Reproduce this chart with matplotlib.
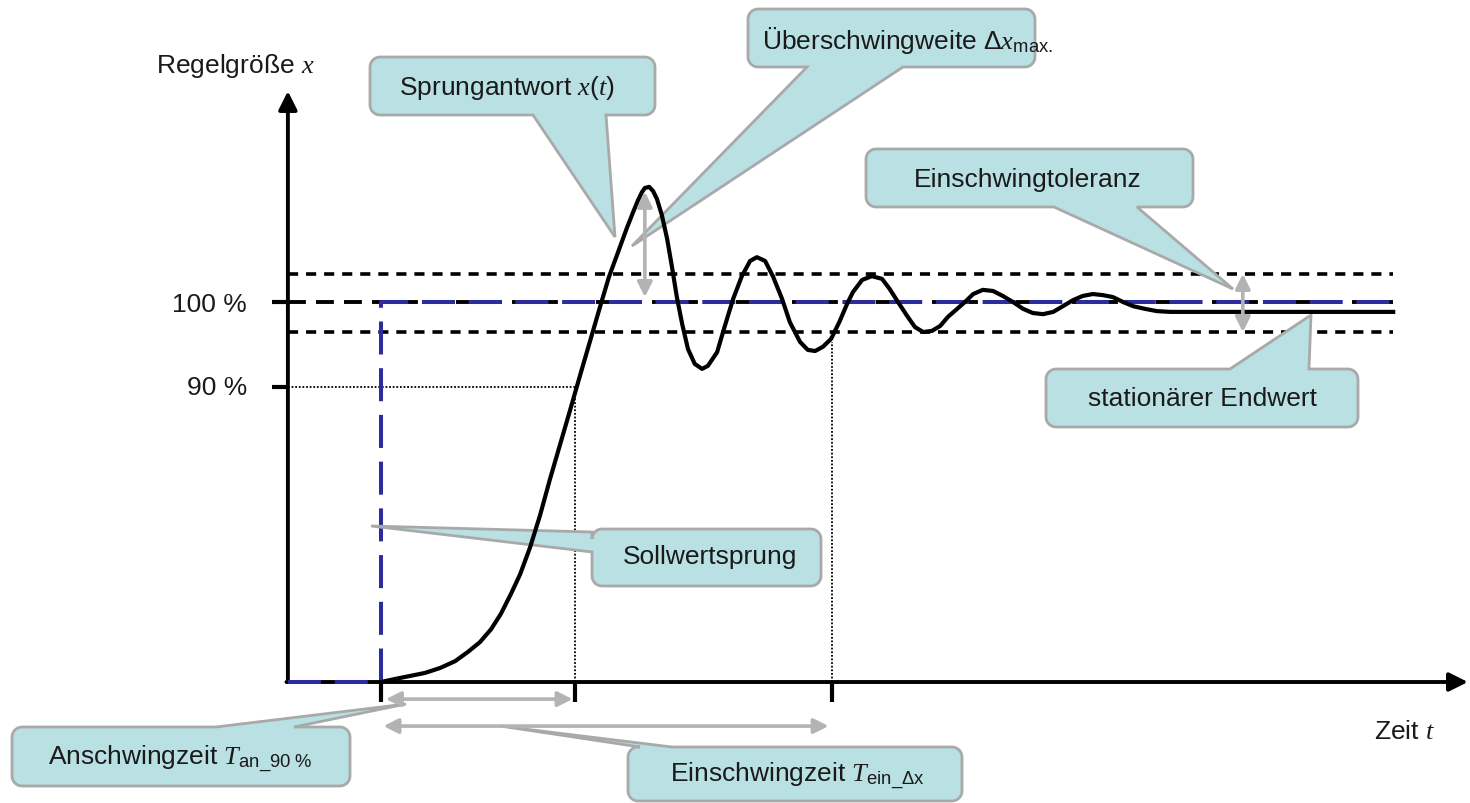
import numpy as np
import matplotlib.pyplot as plt
import matplotlib.transforms as mtransforms
from matplotlib.patches import Polygon

plt.rcParams['font.family'] = ['Liberation Sans', 'DejaVu Sans']
plt.rcParams['mathtext.fontset'] = 'custom'
plt.rcParams['mathtext.rm'] = 'Liberation Sans'
plt.rcParams['mathtext.it'] = 'Liberation Serif:italic'
plt.rcParams['mathtext.bf'] = 'Liberation Sans:bold'

# step response x(t) (t in time units, x in % of set point scale)
t_resp = [0.00, 0.29, 0.60, 0.91, 1.22, 1.53, 1.79, 2.04, 2.27, 2.47, 2.68, 2.87,
          3.07, 3.28, 3.48, 3.69, 3.90, 4.10, 4.31, 4.52, 4.70, 4.89, 5.07, 5.20,
          5.30, 5.38, 5.44, 5.53, 5.61, 5.69, 5.79, 5.90, 6.00, 6.10, 6.21, 6.33,
          6.47, 6.62,
          6.74, 6.93, 7.09, 7.26, 7.44, 7.61, 7.75, 7.92, 8.08, 8.27, 8.43, 8.64,
          8.80, 8.95, 9.11, 9.28, 9.46, 9.61,
          9.73, 9.92, 10.12, 10.33, 10.49, 10.66, 10.85, 11.01, 11.18, 11.36, 11.53,
          11.69, 11.88, 12.04, 12.21, 12.41, 12.62, 12.82, 13.03, 13.24, 13.44, 13.65,
          13.86, 14.06, 14.27, 14.47, 14.68, 14.89, 15.09, 15.30, 15.51, 15.75, 16.00,
          16.27, 20.87]
x_resp = [0.0, 0.8, 1.6, 2.4, 3.7, 5.5, 7.9, 10.5, 13.9, 17.9, 23.2, 28.4,
          35.3, 43.9, 53.2, 62.4, 71.6, 80.5, 89.7, 98.9, 106.6, 113.2, 119.5, 123.7,
          126.8, 128.9, 130.0, 130.3, 129.2, 127.1, 122.9, 116.6, 109.2, 101.3, 94.2, 87.6,
          83.7, 82.4,
          83.2, 86.8, 93.7, 100.8, 106.8, 110.8, 111.8, 110.8, 106.8, 100.8, 94.7, 89.5,
          87.4, 87.1, 88.2, 90.3, 95.0, 99.5,
          102.6, 105.8, 106.8, 106.1, 103.4, 100.0, 96.3, 93.4, 92.1, 92.4, 93.7,
          96.1, 98.2, 100.0, 102.1, 103.2, 102.9, 101.6, 100.0, 98.2, 97.1, 96.8,
          97.4, 98.9, 100.5, 101.6, 102.1, 101.8, 101.3, 100.0, 98.9, 98.2, 97.6,
          97.4, 97.4]

t_step = 0.0      # Sollwertsprung
t_an = 4.0        # Anschwingzeit
t_ein = 9.3       # Einschwingzeit
t_end = 20.87
x_set = 100.0     # 100 %
x_90 = 77.6       # 90 % mark (schematic position)
tol_hi = 107.4
tol_lo = 92.1
x_ein = 89.5
t_axis0 = -1.92
t_axis_end = 22.41
x_axis_top = 155.5

W, H = 1470, 804
fig = plt.figure(figsize=(14.7, 8.04), dpi=100)
ax = fig.add_axes([0, 0, 1, 1])
ax.set_xlim(-7.856, 22.454)
ax.set_ylim(-31.84, 179.74)
ax.axis('off')

# pixel transform (y down) for the callouts
pix = mtransforms.Affine2D().scale(1 / W, -1 / H).translate(0, 1) + fig.transFigure

# reference lines
ax.plot([t_axis0, t_end], [tol_hi, tol_hi], color='k', lw=2.6, dashes=(2.8, 2.2),
        dash_capstyle='butt', zorder=2)
ax.plot([t_axis0, t_end], [tol_lo, tol_lo], color='k', lw=2.6, dashes=(2.8, 2.2),
        dash_capstyle='butt', zorder=2)
ax.plot([t_axis0, t_end], [x_set, x_set], color='k', lw=2.8, dashes=(4.6, 2.6),
        dash_capstyle='butt', zorder=2)
ax.plot([t_axis0, t_step, t_step, t_end], [0, 0, x_set, x_set], color='#2c2c9c', lw=2.9,
        dashes=(8.2, 3.4), dash_capstyle='butt', zorder=3.5)

# dotted helper lines
ax.plot([t_axis0, t_an], [x_90, x_90], color='k', lw=1.3, dashes=(1, 1), zorder=2)
ax.plot([t_an, t_an], [0, x_90], color='k', lw=1.3, dashes=(1, 1), zorder=2)
ax.plot([t_ein, t_ein], [0, x_ein], color='k', lw=1.3, dashes=(1, 1), zorder=2)

# axes with arrows
ax.annotate('', xy=(t_axis0, x_axis_top), xytext=(t_axis0, 0),
            arrowprops=dict(arrowstyle='-|>', lw=2.8, color='k', mutation_scale=28,
                            shrinkA=0, shrinkB=0), zorder=3)
ax.annotate('', xy=(t_axis_end, 0), xytext=(t_axis0 - 0.03, 0),
            arrowprops=dict(arrowstyle='-|>', lw=2.8, color='k', mutation_scale=28,
                            shrinkA=0, shrinkB=0), zorder=3)
for lev in [x_set, x_90]:
    ax.plot([t_axis0 - 0.33, t_axis0], [lev, lev], color='k', lw=3, solid_capstyle='butt', zorder=3)
for tt in [t_step, t_an, t_ein]:
    ax.plot([tt, tt], [0, -5.3], color='k', lw=3, solid_capstyle='butt', zorder=3)

# step response
ax.plot(t_resp, x_resp, color='k', lw=3, solid_joinstyle='round', zorder=6)

# gray dimension arrows
gray = '#b3b3b3'
aprops = dict(arrowstyle='<|-|>', lw=2.6, color=gray, mutation_scale=22, shrinkA=0, shrinkB=0)
ax.annotate('', xy=(5.44, 129.0), xytext=(5.44, 101.3), arrowprops=aprops, zorder=7)
ax.annotate('', xy=(17.77, tol_hi), xytext=(17.77, tol_lo), arrowprops=aprops, zorder=7)
ax.annotate('', xy=(t_step + 0.1, -4.5), xytext=(t_an - 0.05, -4.5), arrowprops=aprops, zorder=7)
ax.annotate('', xy=(t_step + 0.05, -11.6), xytext=(t_ein - 0.07, -11.6), arrowprops=aprops, zorder=7)


def callout(x0, y0, x1, y1, side, a, b, tip, r=10):
    def arc(cx, cy, a0, a1):
        th = np.radians(np.linspace(a0, a1, 8))
        return list(zip(cx + r * np.cos(th), cy + r * np.sin(th)))
    pts = arc(x0 + r, y0 + r, 180, 270)
    if side == 'top':
        pts += [(a, y0), tip, (b, y0)]
    pts += arc(x1 - r, y0 + r, 270, 360)
    if side == 'right':
        pts += [(x1, a), tip, (x1, b)]
    pts += arc(x1 - r, y1 - r, 0, 90)
    if side == 'bottom':
        pts += [(b, y1), tip, (a, y1)]
    pts += arc(x0 + r, y1 - r, 90, 180)
    if side == 'left':
        pts += [(x0, b), tip, (x0, a)]
    ax.add_patch(Polygon(pts, closed=True, transform=pix, fc='#b9e0e3', ec='#a9a9a9',
                         lw=2, zorder=4))


callout(370, 58, 655, 116, 'bottom', 533, 606, (615, 238))
callout(748, 10, 1035, 68, 'bottom', 807, 903, (632, 247))
callout(866, 150, 1193, 208, 'bottom', 1054, 1137, (1233, 290))
callout(1046, 370, 1358, 428, 'top', 1230, 1309, (1311, 316))
callout(592, 530, 821, 587, 'left', 533, 553, (371, 527))
callout(12, 728, 350, 787, 'top', 216, 294, (406, 705))
callout(628, 748, 962, 802, 'top', 640, 672, (500, 727))

fs = 19
txt = dict(transform=pix, ha='center', va='center', fontsize=fs, color='#1a1a1a', zorder=5)
ax.text(507, 88, r'Sprungantwort $x(t)$', **txt)
ax.text(908, 40, r'Überschwingweite $\Delta x_{\mathrm{max.}}$', **txt)
ax.text(1028, 180, 'Einschwingtoleranz', **txt)
ax.text(1203, 399, 'stationärer Endwert', **txt)
ax.text(710, 557, 'Sollwertsprung', **txt)
ax.text(180, 759, r'Anschwingzeit $T_{\mathrm{an\_90\ \%}}$', **txt)
ax.text(797, 776, r'Einschwingzeit $T_{\mathrm{ein\_\Delta x}}$', **txt)

ax.text(235, 66, r'Regelgröße $x$', **txt)
ax.text(1405, 732, r'Zeit $t$', **txt)
ax.text(247, 305, '100 %', transform=pix, ha='right', va='center', fontsize=fs, color='#1a1a1a')
ax.text(247, 388, '90 %', transform=pix, ha='right', va='center', fontsize=fs, color='#1a1a1a')

fig.savefig('out.png', dpi=100)
